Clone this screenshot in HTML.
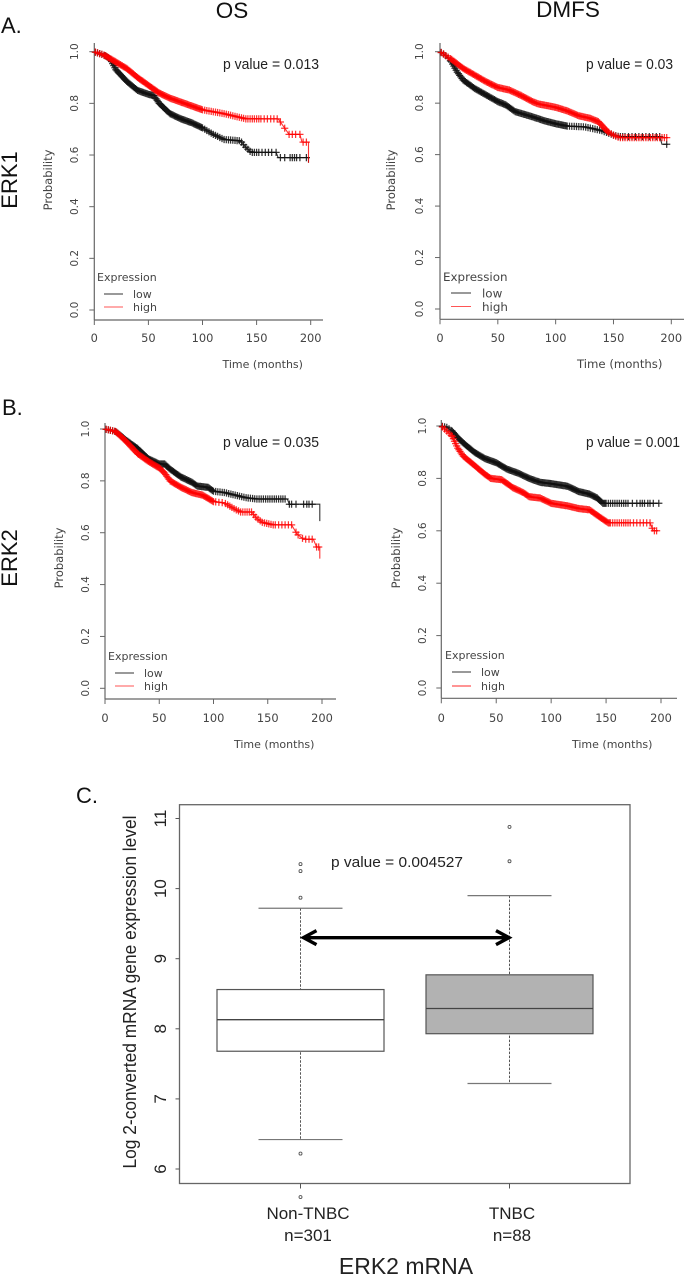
<!DOCTYPE html>
<html lang="en">
<head>
<meta charset="utf-8">
<title>ERK1 and ERK2 survival curves and ERK2 mRNA expression</title>
<style>
html,body{margin:0;padding:0;background:#fff;width:685px;height:1276px;overflow:hidden}
svg{display:block;filter:blur(0.35px)}
.head{font-family:"Liberation Sans",sans-serif;fill:#111}
.km{font-family:"DejaVu Sans",sans-serif;fill:#444}
.pv{font-family:"Liberation Sans",sans-serif;font-size:14.5px;fill:#222}
.bx{font-family:"Liberation Sans",sans-serif;fill:#222}
</style>
</head>
<body>
<svg id="figure" xmlns="http://www.w3.org/2000/svg" width="685" height="1276" viewBox="0 0 685 1276">
  <rect width="685" height="1276" fill="#fff"/>

  <text class="head" x="232" y="18" font-size="22.5" text-anchor="middle">OS</text>
  <text class="head" x="568" y="17" font-size="22.5" text-anchor="middle">DMFS</text>
  <text class="head" x="1" y="33" font-size="22">A.</text>
  <text class="head" x="2" y="415" font-size="22">B.</text>
  <text class="head" x="76" y="803" font-size="22">C.</text>
  <text class="head" transform="translate(17,180) rotate(-90)" font-size="22" text-anchor="middle">ERK1</text>
  <text class="head" transform="translate(17,558) rotate(-90)" font-size="22" text-anchor="middle">ERK2</text>

  <g id="panel-a1">
    <text class="pv" x="223" y="69" textLength="96" lengthAdjust="spacingAndGlyphs">p value = 0.013</text>
    <text class="km" transform="translate(52,180) rotate(-90)" font-size="11.5" text-anchor="middle">Probability</text>
    <text class="km" x="222.5" y="368" font-size="11">Time (months)</text>
    <text class="km" x="97" y="281" font-size="11">Expression</text>
    <line x1="104" x2="123" y1="294" y2="294" stroke="#333" stroke-width="1"/>
    <line x1="104" x2="123" y1="307" y2="307" stroke="#f55" stroke-width="1"/>
    <text class="km" x="133" y="298" font-size="11">low</text>
    <text class="km" x="133" y="311" font-size="11">high</text>
  </g>
  <g id="panel-a2">
    <text class="pv" x="586" y="69" textLength="87" lengthAdjust="spacingAndGlyphs">p value = 0.03</text>
    <text class="km" transform="translate(395,180) rotate(-90)" font-size="11.5" text-anchor="middle">Probability</text>
    <text class="km" x="577" y="368" font-size="11.7">Time (months)</text>
    <text class="km" x="443" y="281" font-size="11.9">Expression</text>
    <line x1="451" x2="471" y1="293" y2="293" stroke="#333" stroke-width="1"/>
    <line x1="451" x2="471" y1="306.5" y2="306.5" stroke="#f55" stroke-width="1"/>
    <text class="km" x="482" y="297.5" font-size="11.9">low</text>
    <text class="km" x="482" y="311" font-size="11.9">high</text>
  </g>
  <g id="panel-b1">
    <text class="pv" x="223" y="447" textLength="96" lengthAdjust="spacingAndGlyphs">p value = 0.035</text>
    <text class="km" transform="translate(63,558) rotate(-90)" font-size="11.5" text-anchor="middle">Probability</text>
    <text class="km" x="234" y="748" font-size="11">Time (months)</text>
    <text class="km" x="108" y="660" font-size="11">Expression</text>
    <line x1="115" x2="134" y1="673" y2="673" stroke="#333" stroke-width="1"/>
    <line x1="115" x2="134" y1="686" y2="686" stroke="#f55" stroke-width="1"/>
    <text class="km" x="144" y="677" font-size="11">low</text>
    <text class="km" x="144" y="690" font-size="11">high</text>
  </g>
  <g id="panel-b2">
    <text class="pv" x="586" y="447" textLength="94" lengthAdjust="spacingAndGlyphs">p value = 0.001</text>
    <text class="km" transform="translate(400,558) rotate(-90)" font-size="11.5" text-anchor="middle">Probability</text>
    <text class="km" x="572" y="748" font-size="11">Time (months)</text>
    <text class="km" x="445" y="659" font-size="11">Expression</text>
    <line x1="452" x2="471" y1="672" y2="672" stroke="#333" stroke-width="1"/>
    <line x1="452" x2="471" y1="686" y2="686" stroke="#f55" stroke-width="1.2"/>
    <text class="km" x="481" y="676" font-size="11">low</text>
    <text class="km" x="481" y="690" font-size="11">high</text>
  </g>

  <g id="panel-c">
    <text class="bx" transform="translate(136,992) rotate(-90)" font-size="18" text-anchor="middle" textLength="353" lengthAdjust="spacingAndGlyphs">Log 2-converted mRNA gene expression level</text>
    <text class="bx" x="331" y="867" font-size="15" textLength="132" lengthAdjust="spacingAndGlyphs">p value = 0.004527</text>
    <text class="bx" x="406" y="1274" font-size="23" text-anchor="middle">ERK2 mRNA</text>
  </g>
</svg>
<script>
// Shared axis values
const probTicks = [0, 0.2, 0.4, 0.6, 0.8, 1];
const probTickLabels = ['0.0', '0.2', '0.4', '0.6', '0.8', '1.0'];
const timeTicks = [0, 50, 100, 150, 200];
const timeTickLabels = ['0', '50', '100', '150', '200'];

// Censor times shared by the dense early part of every curve
const censorEarly = [1,3,5,7,9,10,11,12,13,14,15,16,17,18,19,20,21,22,23,24,25,26,27,28,29,30,31,32,33,34,35,36,37,38,39,40,41,42,43,44,45,46,47,48,49,50,51,52,53,54,55,56,57,58,59,60,61,62,63,64,65,66,67,68,69,70,71,72,73,74,75,76,77,78,79,80,81,82,83,84,85,86,87,88,89,90,91,92,93,94,95,96,97,98,99,100];

// ERK1 OS
const a1LowTimes = [0,10,15,20,30,40,50,55,60,70,80,90,100,110,120,135,140,145,168,170,198,198];
const a1LowSurvival = [1,.985,.97,.93,.885,.85,.835,.83,.80,.76,.74,.725,.705,.68,.66,.655,.63,.61,.61,.59,.59,.57];
const a1LowCensorTail = [102,104,106,108,110,112,114,116,118,120,122,124,126,128,130,132,134,136,138,140,142,144,146,148,150,152,155,158,161,164,168,172,176,181,183,185,187,190,196];
const a1HighTimes = [0,10,20,30,40,50,60,70,80,90,100,120,130,140,170,175,180,190,192,198,198];
const a1HighSurvival = [1,.985,.96,.935,.90,.87,.84,.82,.805,.79,.775,.76,.75,.74,.74,.71,.68,.68,.65,.65,.57];
const a1HighCensorTail = [102,104,106,108,110,112,114,116,118,120,122,124,126,128,130,132,134,136,138,140,142,144,146,148,150,152,154,157,160,163,166,169,172,176,180,183,186,190,193,196];

// ERK1 DMFS
const a2LowTimes = [0,5,10,15,20,30,50,57,65,80,90,100,110,125,140,150,155,190,192,197];
const a2LowSurvival = [1,.985,.96,.92,.89,.857,.806,.793,.767,.747,.732,.72,.711,.708,.693,.676,.67,.67,.64,.64];
const a2LowCensorTail = [101,102,103,104,105,106,107,108,109,110,112,114,116,118,120,122,124,126,128,130,132,134,136,138,140,142,144,146,148,150,152,154,156,158,160,163,166,169,172,175,178,181,184,187,190,196];
const a2HighTimes = [0,10,20,30,40,50,60,70,80,85,100,110,120,130,137,145,150,155,197];
const a2HighSurvival = [1,.97,.935,.909,.883,.861,.851,.83,.806,.797,.784,.77,.751,.741,.728,.689,.676,.666,.666];
const a2HighCensorTail = [101,102,103,104,105,106,107,108,109,110,111,112,113,114,115,116,117,118,119,120,121,122,123,124,125,126,127,128,129,130,131,132,133,134,135,136,137,138,139,140,141,142,143,144,145,146,148,150,152,154,156,158,160,162,164,166,168,170,172,174,176,178,180,182,184,186,188,190,192,194,196];

// ERK2 OS
const b1LowTimes = [0,10,20,30,40,50,55,60,70,80,85,95,100,110,120,130,140,168,170,198,198];
const b1LowSurvival = [1,.99,.955,.925,.885,.865,.865,.845,.815,.795,.78,.775,.76,.755,.745,.735,.73,.73,.71,.71,.645];
const b1LowCensorTail = [102,104,106,108,110,112,114,116,118,120,122,124,126,128,130,132,134,136,138,140,142,144,146,148,150,152,154,156,158,160,162,164,166,170,172,176,183,186,188,191];
const b1HighTimes = [0,10,20,30,40,50,55,60,70,80,90,100,110,120,125,135,140,145,155,172,177,183,192,195,198,198];
const b1HighSurvival = [1,.99,.95,.905,.875,.85,.83,.80,.775,.755,.745,.72,.715,.69,.68,.68,.655,.64,.63,.63,.595,.575,.575,.545,.545,.5];
const b1HighCensorTail = [102,105,108,111,113,115,117,119,121,123,125,127,129,131,133,135,137,139,141,143,145,147,149,151,153,155,157,160,163,166,169,172,176,178,182,185,188,191,195,197];

// ERK2 DMFS
const b2LowTimes = [0,5,10,15,20,30,40,50,60,70,80,90,100,115,125,135,142,147,198];
const b2LowSurvival = [1,.995,.98,.955,.935,.90,.875,.86,.835,.82,.80,.785,.78,.77,.75,.74,.725,.705,.705];
const b2LowCensorTail = [101,102,103,104,105,106,107,108,109,110,111,112,113,114,115,116,117,118,119,120,121,122,123,124,125,126,127,128,129,130,131,132,133,134,135,136,137,138,139,140,141,142,143,144,145,146,147,148,149,150,152,154,156,158,160,162,164,166,168,170,174,178,181,183,185,188,190,193,198];
const b2HighTimes = [0,5,10,15,20,30,40,45,55,65,75,80,90,100,115,125,135,145,152,190,193,197];
const b2HighSurvival = [1,.98,.96,.915,.885,.85,.815,.80,.795,.765,.745,.73,.725,.705,.695,.685,.68,.65,.63,.63,.60,.60];
const b2HighCensorTail = [101,102,103,104,105,106,107,108,109,110,111,112,113,114,115,116,117,118,119,120,121,122,123,124,125,126,127,128,129,130,131,132,133,134,135,136,137,138,139,140,141,142,143,144,145,146,147,148,149,150,151,152,153,154,156,158,160,162,164,166,168,170,172,175,178,181,184,187,190,192,194,196];

// Box plot values
const boxCategories = ['Non-TNBC', 'TNBC'];
const boxCounts = ['n=301', 'n=88'];
const boxQ1 = [7.68, 7.93];
const boxMedian = [8.13, 8.29];
const boxQ3 = [8.56, 8.77];
const boxWhiskerLow = [6.42, 7.22];
const boxWhiskerHigh = [9.72, 9.90];
const nonTnbcOutliers = [10.35, 10.25, 9.87, 6.22, 5.6];
const tnbcOutliers = [10.88, 10.39];
const boxTicks = [6, 7, 8, 9, 10, 11];
const arrowLevel = 9.3;

const SVGNS = 'http://www.w3.org/2000/svg';
function make(tag, parent, attrs) {
  const el = document.createElementNS(SVGNS, tag);
  for (const k in attrs) el.setAttribute(k, attrs[k]);
  parent.appendChild(el);
  return el;
}

const panels = [
  {id:'panel-a1', x0:94.3, x200:310.7, y1:51.7, y0:310, bottom:320, right:323, tickX:78, top:43, tickY:342,
   low:[a1LowTimes,a1LowSurvival,a1LowCensorTail], high:[a1HighTimes,a1HighSurvival,a1HighCensorTail]},
  {id:'panel-a2', x0:440, x200:671.3, y1:51.7, y0:309, bottom:319.3, right:684, tickX:423, top:43, tickY:342,
   low:[a2LowTimes,a2LowSurvival,a2LowCensorTail], high:[a2HighTimes,a2HighSurvival,a2HighCensorTail]},
  {id:'panel-b1', x0:105, x200:322, y1:429, y0:688.3, bottom:699, right:336, tickX:89, top:423, tickY:722,
   low:[b1LowTimes,b1LowSurvival,b1LowCensorTail], high:[b1HighTimes,b1HighSurvival,b1HighCensorTail]},
  {id:'panel-b2', x0:441.3, x200:661, y1:426, y0:688, bottom:698.3, right:677, tickX:426, top:420, tickY:722,
   low:[b2LowTimes,b2LowSurvival,b2LowCensorTail], high:[b2HighTimes,b2HighSurvival,b2HighCensorTail]}
];

function survivalAt(ts, ss, t) {
  for (let i = 1; i < ts.length; i++) {
    if (t <= ts[i]) {
      const span = ts[i] - ts[i-1];
      if (span === 0) return ss[i-1];
      return ss[i-1] + (ss[i] - ss[i-1]) * (t - ts[i-1]) / span;
    }
  }
  return ss[ss.length-1];
}

function drawSeries(g, data, sx, sy, color, opacity, seriesName) {
  const ts = data[0], ss = data[1], tail = data[2];
  const d = ts.map((t, i) => (i ? 'L' : 'M') + sx(t).toFixed(1) + ' ' + sy(ss[i]).toFixed(1)).join('');
  const line = make('path', g, {d:d, fill:'none', stroke:color, 'stroke-width':1.1, 'stroke-opacity':opacity});
  
  
  const last = ts[ts.length-1];
  censorEarly.concat(tail).forEach(t => {
    if (t > last) return;
    const cx = sx(t), cy = sy(survivalAt(ts, ss, t));
    const mark = make('path', g, {d:'M' + (cx-3.6).toFixed(1) + ' ' + cy.toFixed(1) + 'h7.2M' + cx.toFixed(1) + ' ' + (cy-3.6).toFixed(1) + 'v7.2', fill:'none', stroke:color, 'stroke-width':1.25, 'stroke-opacity':opacity});
    
    
  });
}

panels.forEach(p => {
  const g = document.getElementById(p.id);
  const sx = t => p.x0 + (p.x200 - p.x0) * t / 200;
  const sy = v => p.y0 - (p.y0 - p.y1) * v;

  const yAxis = make('line', g, {x1:p.x0, x2:p.x0, y1:p.top, y2:p.bottom, stroke:'#666', 'stroke-width':1.2});
  
  
  const xAxis = make('line', g, {x1:p.x0, x2:p.right, y1:p.bottom, y2:p.bottom, stroke:'#666', 'stroke-width':1.2});
  
  

  probTicks.forEach((v, i) => {
    const tick = make('line', g, {x1:p.x0-5, x2:p.x0, y1:sy(v), y2:sy(v), stroke:'#666', 'stroke-width':1});
    
    
    const label = make('text', g, {transform:'translate(' + p.tickX + ',' + sy(v) + ') rotate(-90)', 'text-anchor':'middle', 'font-size':10.5, 'class':'km'});
    label.textContent = probTickLabels[i];
    
    
  });
  timeTicks.forEach((t, i) => {
    const tick = make('line', g, {x1:sx(t), x2:sx(t), y1:p.bottom, y2:p.bottom+5, stroke:'#666', 'stroke-width':1});
    
    
    const label = make('text', g, {x:sx(t), y:p.tickY, 'text-anchor':'middle', 'font-size':11.4, 'class':'km'});
    label.textContent = timeTickLabels[i];
    
    
  });

  drawSeries(g, p.low, sx, sy, '#111', 0.85, 'low');
  drawSeries(g, p.high, sx, sy, '#f00', 0.8, 'high');
});

// Box plot
(function () {
  const g = document.getElementById('panel-c');
  const fx = 179.5, fr = 630, ft = 804.7, fb = 1183.5;
  const by = v => 1169 - (v - 6) * 70.1;
  const bx = i => 300.5 + i * 209;
  const halfBox = 83.5, halfCap = 42;

  const frame = make('rect', g, {x:fx, y:ft, width:fr-fx, height:fb-ft, fill:'none', stroke:'#666', 'stroke-width':1.3});
  
  

  boxTicks.forEach(v => {
    const tick = make('line', g, {x1:fx-4, x2:fx, y1:by(v), y2:by(v), stroke:'#555', 'stroke-width':1});
    
    
    const label = make('text', g, {transform:'translate(166,' + by(v) + ') rotate(-90)', 'text-anchor':'middle', 'font-size':17, 'class':'bx'});
    label.textContent = String(v);
    
    
  });

  const fills = ['#fff', '#b2b2b2'];
  const outlierSets = [nonTnbcOutliers, tnbcOutliers];
  const labelCenters = [308, 512];
  boxCategories.forEach((name, i) => {
    const c = bx(i);
    const whisk = make('line', g, {x1:c, x2:c, y1:by(boxWhiskerHigh[i]), y2:by(boxWhiskerLow[i]), stroke:'#555', 'stroke-width':1, 'stroke-dasharray':'2.5 1.5'});
    
    
    [boxWhiskerHigh[i], boxWhiskerLow[i]].forEach(v => {
      const cap = make('line', g, {x1:c-halfCap, x2:c+halfCap, y1:by(v), y2:by(v), stroke:'#777', 'stroke-width':1.2});
      
      
    });
    const box = make('rect', g, {x:c-halfBox, y:by(boxQ3[i]), width:halfBox*2, height:by(boxQ1[i])-by(boxQ3[i]), fill:fills[i], stroke:'#555', 'stroke-width':1.2});
    
    
    const med = make('line', g, {x1:c-halfBox, x2:c+halfBox, y1:by(boxMedian[i]), y2:by(boxMedian[i]), stroke:'#444', 'stroke-width':1.3});
    
    
    outlierSets[i].forEach(v => {
      const o = make('circle', g, {cx:c, cy:by(v), r:1.5, fill:'none', stroke:'#555', 'stroke-width':0.9});
      
      
    });
    const tick = make('line', g, {x1:c, x2:c, y1:fb, y2:fb+5, stroke:'#555', 'stroke-width':1});
    
    
    const lab = make('text', g, {x:labelCenters[i], y:1219, 'text-anchor':'middle', 'font-size':17, 'class':'bx'});
    lab.textContent = name;
    
    
    const cnt = make('text', g, {x:labelCenters[i], y:1241, 'text-anchor':'middle', 'font-size':17, 'class':'bx'});
    cnt.textContent = boxCounts[i];
    
    
  });

  const ay = by(arrowLevel), ax1 = bx(0) + 3, ax2 = bx(1) - 0.5;
  const arrow = make('path', g, {d:'M' + ax1 + ' ' + ay + 'H' + ax2 + 'M' + (ax1+13) + ' ' + (ay-7) + 'L' + ax1 + ' ' + ay + 'L' + (ax1+13) + ' ' + (ay+7) + 'M' + (ax2-13) + ' ' + (ay-7) + 'L' + ax2 + ' ' + ay + 'L' + (ax2-13) + ' ' + (ay+7), fill:'none', stroke:'#000', 'stroke-width':3.4});
  
  
})();
</script>
</body>
</html>
